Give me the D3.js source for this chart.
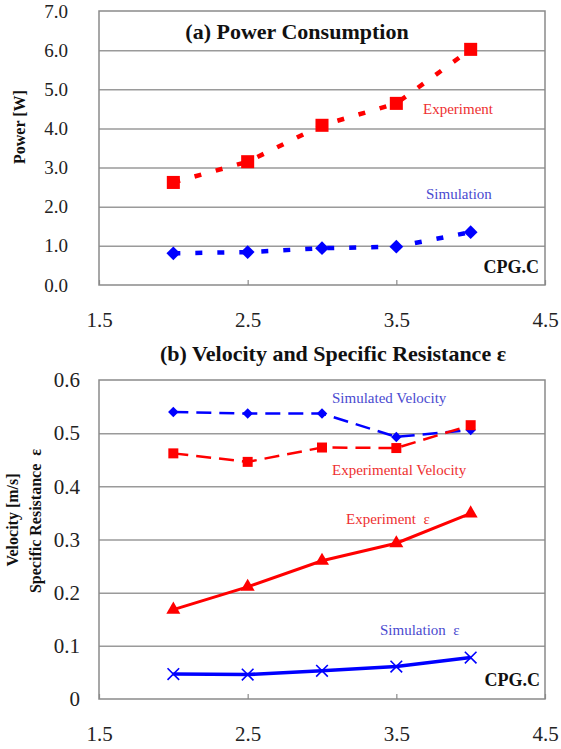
<html>
<head>
<script src="https://d3js.org/d3.v7.min.js"></script>
<style>
    body { margin: 0; background: #fff; }
    svg text { font-family: 'Liberation Serif', 'Times New Roman', serif; }
    .grid line { stroke: #9a9a9a; stroke-width: 1.5; }
    .grid path { display: none; }
    .frame { fill: none; stroke: #8a8a8a; stroke-width: 1.5; }
</style>
</head>
<body>
<svg id='chart' width=561 height=749></svg>
<script>

    // x = speed setting (shared by both panels)
    let speeds = [2.0, 2.5, 3.0, 3.5, 4.0];
    let xTicks = [1.5, 2.5, 3.5, 4.5];

    // (a) power consumption [W]
    let powerExp = [2.62, 3.15, 4.08, 4.64, 6.02];
    let powerSim = [0.81, 0.84, 0.94, 0.98, 1.35];
    let powerTicks = [0, 1, 2, 3, 4, 5, 6, 7];

    // (b) velocity [m/s] and specific resistance
    let velSim = [0.540, 0.537, 0.537, 0.493, 0.506];
    let velExp = [0.462, 0.446, 0.473, 0.472, 0.515];
    let resExp = [0.168, 0.211, 0.260, 0.293, 0.349];
    let resSim = [0.047, 0.046, 0.053, 0.061, 0.078];
    let velTicks = [0, 0.1, 0.2, 0.3, 0.4, 0.5, 0.6];

    let svg = d3.select('#chart');
    let left = 99, right = 545;
    let serif = 'Liberation Serif';

    let x = d3.scaleLinear().domain([1.5, 4.5]).range([left, right]);

    function panel(y, ticks, fmt, labelSize, labelPad, top, bottom) {
        let g = svg.append('g');
        let gridVals = ticks.slice(1, -1);

        g.append('g')
            .attr('class', 'grid')
            .attr('transform', 'translate(' + left + ',0)')
            .call(d3.axisLeft(y).tickValues(gridVals).tickSize(-(right - left)).tickFormat(''));

        g.append('rect')
            .attr('class', 'frame')
            .attr('x', left).attr('y', top)
            .attr('width', right - left).attr('height', bottom - top);

        // y tick labels
        let ya = g.append('g')
            .attr('transform', 'translate(' + left + ',0)')
            .call(d3.axisLeft(y).tickValues(ticks).tickSize(0).tickPadding(labelPad).tickFormat(fmt));
        ya.attr('font-family', serif);
        ya.select('.domain').remove();
        ya.selectAll('text')
            .attr('fill', '#222')
            .style('font-family', serif)
            .style('font-size', labelSize + 'px');

        // x axis: small inward ticks, labels well below
        let xa = g.append('g')
            .attr('transform', 'translate(0,' + bottom + ')')
            .call(d3.axisBottom(x).tickValues(xTicks).tickSizeInner(-5).tickSizeOuter(0).tickFormat(d3.format('.1f')));
        xa.attr('font-family', serif);
        xa.select('.domain').remove();
        xa.selectAll('line').attr('stroke', '#8a8a8a').attr('stroke-width', 1.2);
        xa.selectAll('text')
            .attr('dy', null).attr('y', 42)
            .attr('fill', '#222')
            .style('font-family', serif)
            .style('font-size', '21px');
        return g;
    }

    function series(g, y, vals, color, width, dash, symbol, size, rotate) {
        let pts = speeds.map((s, i) => [s, vals[i]]);
        let line = d3.line().x(d => x(d[0])).y(d => y(d[1]));
        g.append('path')
            .datum(pts)
            .attr('d', line)
            .attr('fill', 'none')
            .attr('stroke', color)
            .attr('stroke-width', width)
            .attr('stroke-dasharray', dash);
        let stroke = symbol === d3.symbolTimes;
        g.selectAll(null)
            .data(pts)
          .enter()
            .append('path')
            .attr('d', d3.symbol().type(symbol).size(size))
            .attr('transform', d => 'translate(' + x(d[0]) + ',' + y(d[1]) + ') rotate(' + rotate + ')')
            .attr('fill', stroke ? 'none' : color)
            .attr('stroke', stroke ? color : 'none')
            .attr('stroke-width', 1.6);
    }

    function label(txt, px, py, color, size, weight, anchor) {
        return svg.append('text')
            .attr('x', px).attr('y', py)
            .attr('fill', color)
            .attr('text-anchor', anchor || 'start')
            .style('font-size', size + 'px')
            .style('font-weight', weight || 'normal')
            .style('white-space', 'pre')
            .text(txt);
    }

    // ---- (a) Power Consumption
    let yA = d3.scaleLinear().domain([0, 7]).range([285, 11]);
    let gA = panel(yA, powerTicks, d3.format('.1f'), 19, 31, 11, 285);
    series(gA, yA, powerExp, '#ff0000', 4.5, '7,15', d3.symbolSquare, 170, 0);
    series(gA, yA, powerSim, '#0000ff', 4.5, '7,15', d3.symbolSquare, 95, 45);

    label('(a) Power Consumption', 297, 39, '#111', 22, 'bold', 'middle');
    label('Experiment', 423, 114, '#ee3030', 15);
    label('Simulation', 426, 199, '#4a4ad0', 15);
    label('CPG.C', 539, 273, '#111', 18, 'bold', 'end');

    svg.append('text')
        .attr('transform', 'translate(25,127) rotate(-90)')
        .attr('text-anchor', 'middle')
        .style('font-size', '16px')
        .style('font-weight', 'bold')
        .attr('fill', '#111')
        .text('Power [W]');

    // ---- (b) Velocity and Specific Resistance
    let yB = d3.scaleLinear().domain([0, 0.6]).range([699, 380]);
    let fmtB = d => d === 0 ? '0' : d3.format('.1f')(d);
    let gB = panel(yB, velTicks, fmtB, 21, 19, 380, 699);
    series(gB, yB, velSim, '#0000ff', 2.5, '15,8', d3.symbolSquare, 55, 45);
    series(gB, yB, velExp, '#ff0000', 2.5, '15,8', d3.symbolSquare, 100, 0);
    series(gB, yB, resExp, '#ff0000', 3, null, d3.symbolTriangle, 85, 0);
    series(gB, yB, resSim, '#0000ff', 3.5, null, d3.symbolTimes, 90, 0);

    label('(b) Velocity and Specific Resistance \u03b5', 333, 361, '#111', 22, 'bold', 'middle');
    label('Simulated Velocity', 332, 403, '#4a4ad0', 15);
    label('Experimental Velocity', 332, 475, '#ee3030', 15);
    label('Experiment  \u03b5', 346, 524, '#ee3030', 15);
    label('Simulation  \u03b5', 380, 635, '#4a4ad0', 15);
    label('CPG.C', 540, 686, '#111', 18, 'bold', 'end');

    svg.append('text')
        .attr('transform', 'translate(18,520) rotate(-90)')
        .attr('text-anchor', 'middle')
        .style('font-size', '16px')
        .style('font-weight', 'bold')
        .attr('fill', '#111')
        .text('Velocity [m/s]');
    svg.append('text')
        .attr('transform', 'translate(41,521) rotate(-90)')
        .attr('text-anchor', 'middle')
        .style('font-size', '16px')
        .style('font-weight', 'bold')
        .style('white-space', 'pre')
        .attr('fill', '#111')
        .text('Specific Resistance  \u03b5');

</script>
</body>
</html>
